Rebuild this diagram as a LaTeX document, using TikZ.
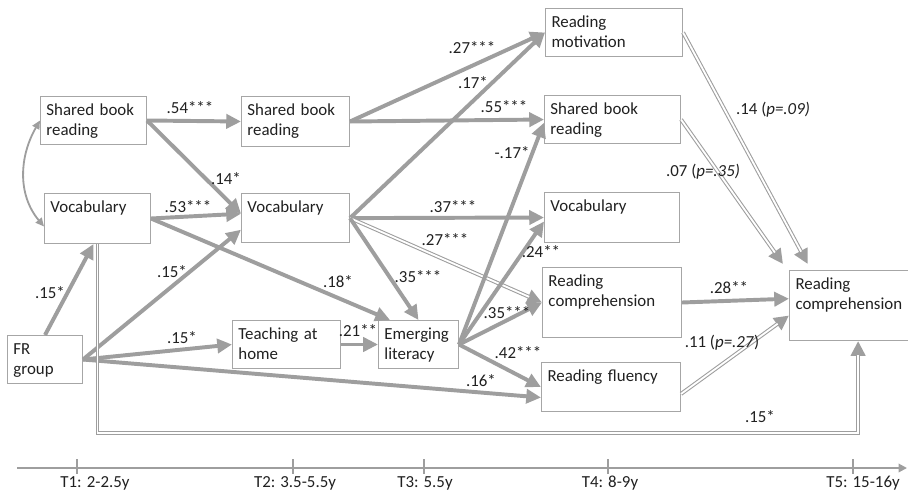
\documentclass[tikz,border=0pt]{standalone}
\usepackage{fontspec}
\setmainfont{Carlito}
\usetikzlibrary{arrows.meta,calc}
\usepackage{xcolor}
\definecolor{Ink}{HTML}{202020}
\definecolor{Conn}{HTML}{9E9E9E}
\definecolor{Frame}{HTML}{A6A6A6}

\begin{document}
\begin{tikzpicture}[x=0.025cm,y=-0.025cm,
  box/.style={draw=Frame,line width=0.7pt,anchor=north west,align=left,inner xsep=0.15cm,inner ysep=0.15cm,text height=0.33cm,text depth=0.57cm,text=Ink,font=\fontsize{12}{14.4}\selectfont},
  lab/.style={inner sep=0pt,text=Ink,font=\fontsize{12}{14.4}\selectfont},
  arr/.style={draw=Conn,line width=2.8pt,-{Triangle[length=10.5pt,width=10pt]}},
  dbl/.style={arr,postaction={draw=white,line width=1.3pt,-,shorten >=10pt}},
  bid/.style={draw=Conn,line width=1.3pt,{Triangle[length=6pt,width=5.5pt]}-{Triangle[length=6pt,width=5.5pt]}}]
\useasboundingbox (0,0) rectangle (908,495);
% T1
\node[box,text width=2.35cm] (sbrA) at (40,96) {Shared book\\reading};
\node[box,text width=2.35cm,text depth=0.62cm] (vocA) at (44,193) {Vocabulary};
\node[box,text width=1.575cm] (fr) at (7,335) {FR\\group};
% T2, T3
\node[box,text width=2.4cm,text depth=0.62cm] (sbrB) at (241,96) {Shared book\\reading};
\node[box,text width=2.4cm,text depth=0.6cm] (vocB) at (241,193) {Vocabulary};
\node[box,text width=2.4cm] (teach) at (232,320) {Teaching at\\home};
\node[box,text width=1.7cm] (emlit) at (378,320) {Emerging\\literacy};
% T4
\node[box,text width=3.125cm] (motD) at (545,8) {Reading\\motivation};
\node[box,text width=3.1cm] (sbrD) at (544,95) {Shared book\\reading};
\node[box,text width=3.075cm,text depth=0.62cm] (vocD) at (544,192) {Vocabulary};
\node[box,text width=3.175cm,text depth=1.12cm] (compD) at (542,267) {Reading\\comprehension};
\node[box,text width=3.175cm,text depth=0.6cm] (fluD) at (541,362) {Reading fluency};
% T5
\node[box,text width=2.95cm,text depth=1.12cm] (compE) at (789,270) {Reading\\comprehension};

\draw[arr] (sbrA.east) -- (sbrB.west);
\draw[arr] (sbrA.east) -- ([yshift=0.11cm]vocB.west);
\draw[arr] (vocA.east) -- ([yshift=0.11cm]vocB.west);
\draw[arr] (vocA.east) -- ([xshift=0.3cm]emlit.north west);
\draw[arr] (fr.north) -- ([xshift=-0.1cm]vocA.south);
\draw[arr] (fr.east) -- ([yshift=-0.29cm]vocB.west);
\draw[arr] (fr.east) -- (teach.west);
\draw[arr] (fr.east) -- ([yshift=-0.26cm]fluD.west);
\draw[arr] (teach.east) -- (emlit.west);
\draw[arr] (sbrB.east) -- (motD.west);
\draw[arr] (sbrB.east) -- (sbrD.west);
\draw[arr] (vocB.east) -- (motD.west);
\draw[arr] (vocB.east) -- (vocD.west);
\draw[dbl] (vocB.east) -- (compD.west);
\draw[arr] (vocB.east) -- (emlit.north);
\draw[arr] (emlit.east) -- ([yshift=-0.08cm]sbrD.west);
\draw[arr] (emlit.east) -- ([yshift=-0.1cm]vocD.west);
\draw[arr] (emlit.east) -- (compD.west);
\draw[arr] (emlit.east) -- (fluD.west);
\draw[arr] (compD.east) -- ([yshift=0.17cm]compE.west);
\draw[dbl] ([yshift=-0.17cm]fluD.east) -- ([yshift=-0.25cm]compE.west);
\draw[dbl] (motD.east) -- ([xshift=0.47cm,yshift=0.15cm]compE.north west);
\draw[dbl] (sbrD.east) -- ([xshift=-0.15cm,yshift=0.15cm]compE.north west);
\draw[dbl] (vocA.south) -- ++(0,189) -| ([xshift=0.09cm]compE.south);
\draw[bid] (sbrA.west) to[out=240,in=130] ([yshift=-0.2cm]vocA.west);

\node[lab] (l54) at (190,108) {.54***};
\node[lab] (l14) at (226,179) {.14*};
\node[lab] (l53) at (188,207) {.53***};
\node[lab] (l15a) at (50,293) {.15*};
\node[lab] (l15b) at (172,272) {.15*};
\node[lab] (l18) at (338,282) {.18*};
\node[lab] (l35a) at (418,277) {.35***};
\node[lab] (l15c) at (182,338) {.15*};
\node[lab] (l21) at (358,331) {.21**};
\node[lab] (l27a) at (472,48) {.27***};
\node[lab] (l17a) at (473,83) {.17*};
\node[lab] (l55) at (504,107) {.55***};
\node[lab] (l17b) at (512,153) {-.17*};
\node[lab] (l37) at (453,207) {.37***};
\node[lab] (l27b) at (445,240) {.27***};
\node[lab] (l24) at (541,252) {.24**};
\node[lab] (l35b) at (507,313) {.35***};
\node[lab] (l42) at (518,353) {.42***};
\node[lab] (l16) at (481,381) {.16*};
\node[lab] (l28) at (729,288) {.28**};
\node[lab] (l11) at (722,343) {.11 (\textit{p=.27})};
\node[lab] (l15d) at (760,417) {.15*};
\node[lab] (l14b) at (773,110) {.14 (\textit{p=.09)}};
\node[lab] (l07) at (703,172) {.07 (\textit{p=.35)}};

% time line
\coordinate (axL) at (17,468);
\coordinate (axR) at (907,468);
\draw[Conn,line width=1.4pt,-{Triangle[length=6pt,width=6pt]}] (axL) -- (axR);
\draw[Conn,line width=1.4pt] (77,459) -- (77,474);
\draw[Conn,line width=1.4pt] (293,459) -- (293,474);
\draw[Conn,line width=1.4pt] (424,459) -- (424,474);
\draw[Conn,line width=1.4pt] (608,459) -- (608,474);
\draw[Conn,line width=1.4pt] (853,459) -- (853,474);
\node[lab,anchor=base] (tA) at (95,487) {T1: 2-2.5y};
\node[lab,anchor=base] (tB) at (295,487) {T2: 3.5-5.5y};
\node[lab,anchor=base] (tC) at (425,487) {T3: 5.5y};
\node[lab,anchor=base] (tD) at (610,487) {T4: 8-9y};
\node[lab,anchor=base] (tE) at (863,487) {T5: 15-16y};
\end{tikzpicture}
\end{document}
